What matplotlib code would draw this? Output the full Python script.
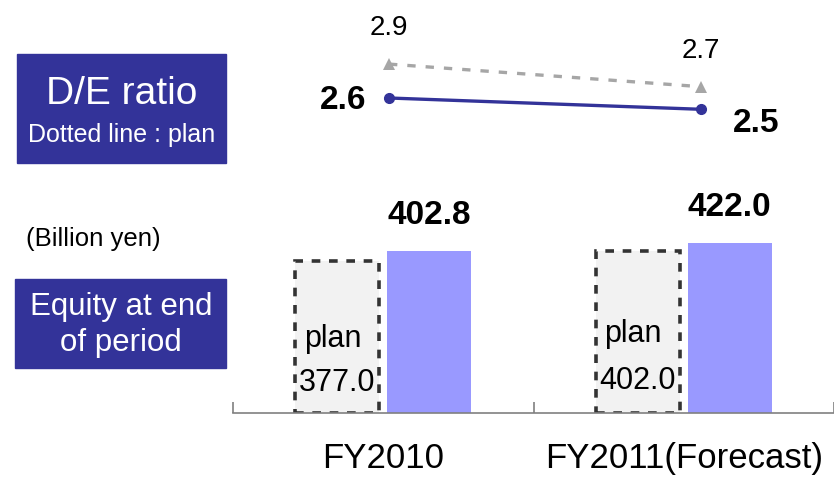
import matplotlib
matplotlib.use("Agg")
import matplotlib.pyplot as plt
from matplotlib import font_manager
from matplotlib.patches import Rectangle

# data
categories = ["FY2010", "FY2011(Forecast)"]
equity_plan = [377.0, 402.0]
equity_actual = [402.8, 422.0]
de_plan = [2.9, 2.7]
de_actual = [2.6, 2.5]

NAVY = "#333399"
BAR = "#9999FF"
PLAN_FILL = "#F2F2F2"
GRAY = "#A6A6A6"

plt.rcParams["font.family"] = ["Liberation Sans", "DejaVu Sans"]

# the plan numbers look condensed in the original
names = {f.name for f in font_manager.fontManager.ttflist}
if "Liberation Sans Narrow" in names:
    narrow, narrow_size = ["Liberation Sans Narrow", "DejaVu Sans"], 26
else:
    narrow, narrow_size = ["Liberation Sans", "DejaVu Sans"], 22

W, H = 834, 479
fig = plt.figure(figsize=(W / 100, H / 100), dpi=100)


def fx(x):
    return x / W


def fy(y):
    # pixel from top -> figure fraction
    return 1 - y / H


x = list(range(len(categories)))
xlim = (-0.5, 1.426)
ax_left = fx(233)
ax_w = 1 - ax_left

# ---- bar chart (equity) ----
ax = fig.add_axes([ax_left, fy(413), ax_w, (413 - 180) / H])
ax.set_xlim(*xlim)
ax.set_ylim(0, (413 - 180) / 0.403)

off, wd = 0.153, 0.28
ax.bar([i - off for i in x], equity_plan, width=wd, color=PLAN_FILL,
       edgecolor="#333333", linewidth=2.6, linestyle=(0, (2.4, 2.4)), zorder=2)
ax.bar([i + off for i in x], equity_actual, width=wd, color=BAR, zorder=2)

for i, (p, a) in enumerate(zip(equity_plan, equity_actual)):
    ax.annotate(f"{a:.1f}", (i + off, a), xytext=(0, 14), textcoords="offset points",
                ha="center", va="bottom", fontsize=24, fontweight="bold")
    ax.text(i - off - 0.015, p * 0.49, "plan", ha="center", va="center",
            fontsize=narrow_size, family=narrow)
    ax.text(i - off, p * 0.20, f"{p:.1f}", ha="center", va="center",
            fontsize=narrow_size, family=narrow)

for s in ["top", "right", "left"]:
    ax.spines[s].set_visible(False)
ax.spines["bottom"].set_color("#808080")
ax.spines["bottom"].set_linewidth(1.2)
ax.set_yticks([])
ax.set_xticks(x)
ax.set_xticklabels(categories, fontsize=25)
ax.tick_params(axis="x", which="major", length=0, pad=21)
ax.set_xticks([-0.5, 0.5, 1.5], minor=True)
ax.tick_params(axis="x", which="minor", direction="in", length=8, width=1.2, color="#808080")

# ---- line chart (D/E ratio) ----
lx = fig.add_axes([ax_left, fy(170), ax_w, 170 / H])
lx.set_xlim(*xlim)
lx.set_ylim(2.6 - 72 / 113, 2.6 + 98 / 113)
lx.axis("off")
lx.plot(x, de_plan, color=GRAY, linewidth=2.4, linestyle=(0, (2.5, 3)),
        marker="^", markersize=9, markeredgewidth=0)
lx.plot(x, de_actual, color=NAVY, linewidth=2.4, marker="o", markersize=7)

for i, v in enumerate(de_plan):
    lx.annotate(f"{v:.1f}", (i, v), xytext=(0, 26), textcoords="offset points",
                ha="center", va="center", fontsize=20)
act_offsets = [(-33, -2), (40, -10)]
for i, v in enumerate(de_actual):
    lx.annotate(f"{v:.1f}", (i, v), xytext=act_offsets[i], textcoords="offset points",
                ha="center", va="center", fontsize=24, fontweight="bold")

# ---- left side boxes ----
fig.patches.append(Rectangle((fx(17), fy(163)), fx(209), 109 / H,
                             transform=fig.transFigure, color=NAVY, zorder=0))
fig.text(fx(122), fy(94), "D/E ratio", color="white", fontsize=28, ha="center", va="center")
fig.text(fx(122), fy(135), "Dotted line : plan", color="white", fontsize=18,
         ha="center", va="center")

fig.text(fx(93), fy(239), "(Billion yen)", fontsize=18.5, ha="center", va="center")

fig.patches.append(Rectangle((fx(15), fy(368)), fx(211), 89 / H,
                             transform=fig.transFigure, color=NAVY, zorder=0))
fig.text(fx(121), fy(325), "Equity at end\nof period", color="white", fontsize=22.5,
         ha="center", va="center", linespacing=1.3)

fig.savefig("out.png", dpi=100)
